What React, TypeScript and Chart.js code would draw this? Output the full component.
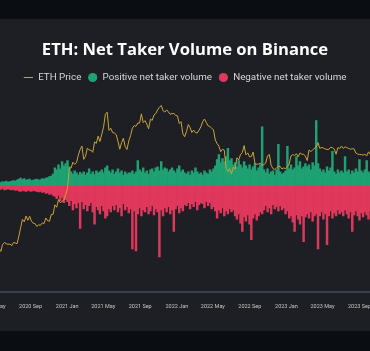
import React, { useEffect, useRef } from "react";
import { Chart, registerables } from "chart.js";

Chart.register(...registerables);

// ---- Data (one sample every 6 days) ----
const START_DATE = "2020-05-19";
const STEP_DAYS = 6;

const ethPrice = [
  214, 200, 232, 242, 237, 232, 235, 226, 242, 240, 236, 278, 334, 400, 380, 430, 392, 428, 385, 368,
  365, 343, 355, 352, 370, 366, 412, 388, 384, 445, 446, 548, 520, 615, 575, 590, 610, 685, 780, 1220,
  1220, 1380, 1320, 1370, 1610, 1810, 1960, 1470, 1570, 1870, 1800, 1790, 1710, 2140, 2080, 2430, 2160, 2530, 2950, 3900,
  4080, 2750, 2880, 2630, 2600, 2510, 2170, 1830, 2110, 2320, 1940, 1820, 2190, 2460, 2890, 3050, 3010, 3230, 3220, 3940,
  3260, 3400, 3150, 2850, 3510, 3420, 3850, 3970, 4290, 4530, 4730, 4220, 4090, 4290, 4100, 3900, 3960, 3980, 3800, 3770,
  3190, 3330, 2560, 2400, 2680, 3120, 2930, 2630, 2770, 2620, 2600, 2770, 2970, 3330, 3520, 3260, 3040, 2990, 2890, 2780,
  2240, 2060, 1960, 1730, 1830, 1790, 1210, 1130, 1200, 1070, 1240, 1190, 1520, 1450, 1630, 1700, 1980, 1620, 1690, 1550,
  1560, 1720, 1340, 1320, 1330, 1350, 1290, 1310, 1360, 1590, 1630, 1290, 1200, 1180, 1220, 1260, 1260, 1190, 1220, 1200,
  1250, 1330, 1580, 1630, 1600, 1660, 1550, 1690, 1640, 1640, 1570, 1430, 1800, 1740, 1790, 1870, 1910, 2110, 1860, 1900,
  1880, 1840, 1820, 1820, 1910, 1890, 1840, 1640, 1890, 1860, 1960, 1860, 1930, 1890, 1860, 1830, 1850, 1840, 1680, 1650,
  1630, 1630, 1610, 1640, 1580, 1730, 1630, 1550,
];

const positiveNetTakerVolume = [
  30, 25, 35, 30, 40, 30, 35, 40,
  45, 40, 50, 60, 70, 55, 65, 50,
  55, 60, 45, 50, 55, 60, 50,
  55, 65, 60, 70, 75, 85, 90, 110,
  170, 150, 200, 160, 230, 190, 210, 240,
  180, 130, 110, 140, 120, 100, 125,
  110, 130, 100, 120, 160, 110, 130, 105, 140, 120,
  130, 150, 120, 170, 190, 140, 120, 150, 110,
  130, 160, 120, 140, 100, 130, 110, 120,
  120, 140, 110, 130, 240, 150, 130, 170, 120, 140, 110,
  150, 160, 130, 170, 180, 140, 230, 150, 170,
  160, 130, 150, 170, 140, 120, 160, 190, 130, 150, 120,
  110, 130, 100, 140, 120, 170, 130, 110, 120,
  100, 140, 120, 110, 150, 130, 160, 190,
  250, 300, 220, 260, 230, 280, 360, 240, 260, 200,
  220, 180, 240, 200, 170, 230, 190, 160, 200, 150, 180, 210, 140, 170, 200,
  570,
  150, 120, 160, 110, 130, 140, 100, 150, 400, 130, 110, 120,
  140, 380, 160, 200, 150, 170, 280, 190, 230, 160, 180, 210,
  180, 200, 150, 220, 190, 630, 210,
  160, 130, 150, 120, 180, 140, 170, 330, 130, 110, 150, 120,
  140, 120, 280, 130, 150, 110, 140, 120, 160, 130, 250, 140, 120, 150, 240, 130, 110, 140,
];

const negativeNetTakerVolume = [
  -35, -40, -30, -45, -40, -35, -40, -45,
  -40, -50, -45, -55, -60, -50, -55, -60,
  -50, -55, -60, -50, -55, -60, -65,
  -60, -70, -65, -80, -75, -90, -85, -100,
  -110, -130, -100, -150, -120, -170, -140, -160,
  -200, -150, -240, -180, -220, -170, -420,
  -160, -230, -190, -250, -200, -170, -260, -380, -210, -240,
  -280, -200, -250, -320, -300, -230, -260, -200, -240,
  -190, -260, -220, -300, -180, -240, -210, -270,
  -230, -620, -250, -640, -280, -220, -300, -240, -260, -210, -280,
  -250, -200, -290, -230, -260, -700, -240, -300, -220,
  -260, -210, -280, -240, -450, -230, -200, -270, -220, -250, -190,
  -200, -170, -230, -180, -210, -160, -240, -190, -170,
  -180, -220, -160, -200, -170, -230, -210, -250,
  -320, -240, -270, -220, -300, -250, -280, -230, -260, -240,
  -300, -330, -280, -370, -450, -310, -350, -290, -380, -530, -320, -280, -340, -300, -260,
  -280,
  -240, -200, -260, -220, -280, -190, -230, -210, -250, -200, -240, -220,
  -280, -250, -320, -300, -360, -450, -290, -330, -380, -300, -550, -310,
  -280, -320, -260, -350, -300, -280, -620,
  -300, -260, -330, -280, -580, -300, -250, -320, -270, -300, -240, -280,
  -260, -300, -240, -280, -320, -260, -450, -290, -250, -300, -340, -270, -310, -260, -290, -330, -250, -280,
];

const tickLabels = [
  "2020 May", "2020 Sep", "2021 Jan", "2021 May", "2021 Sep", "2022 Jan",
  "2022 May", "2022 Sep", "2023 Jan", "2023 May", "2023 Sep",
];

// ---- helpers ----
const MONTHS: Record<string, number> = {
  Jan: 0, Feb: 1, Mar: 2, Apr: 3, May: 4, Jun: 5, Jul: 6, Aug: 7, Sep: 8, Oct: 9, Nov: 10, Dec: 11,
};
const ORIGIN = Date.UTC(2020, 4, 1);
const DAY_MS = 86400000;
const dayOf = (ms: number) => (ms - ORIGIN) / DAY_MS;
const startDay = dayOf(Date.parse(START_DATE + "T00:00:00Z"));
const xDays = ethPrice.map((_, i) => startDay + i * STEP_DAYS);
const tickDays = tickLabels.map((l) => {
  const [y, m] = l.split(" ");
  return dayOf(Date.UTC(Number(y), MONTHS[m], 1));
});

const FONT = "Roboto, 'Noto Sans', sans-serif";
const TITLE_FONT = "'Open Sans', Roboto, sans-serif";

export default function App() {
  const canvasRef = useRef<HTMLCanvasElement | null>(null);

  useEffect(() => {
    if (!canvasRef.current) return;
    const chart = new Chart(canvasRef.current, {
      type: "bar",
      data: {
        datasets: [
          {
            type: "line",
            label: "ETH Price",
            data: xDays.map((x, i) => ({ x, y: ethPrice[i] })),
            yAxisID: "yPrice",
            borderColor: "#c9a43a",
            backgroundColor: "#c9a43a",
            borderWidth: 1,
            pointRadius: 0,
            pointStyle: "line",
            tension: 0,
            order: 0,
          } as any,
          {
            type: "bar",
            label: "Positive net taker volume",
            data: xDays.map((x, i) => ({ x, y: positiveNetTakerVolume[i] })),
            yAxisID: "yVol",
            backgroundColor: "#1fa273",
            borderWidth: 0,
            barPercentage: 1,
            categoryPercentage: 1,
            grouped: false,
            order: 1,
          } as any,
          {
            type: "bar",
            label: "Negative net taker volume",
            data: xDays.map((x, i) => ({ x, y: negativeNetTakerVolume[i] })),
            yAxisID: "yVol",
            backgroundColor: "#e0385c",
            borderWidth: 0,
            barPercentage: 1,
            categoryPercentage: 1,
            grouped: false,
            order: 2,
          } as any,
        ],
      },
      options: {
        animation: false,
        responsive: false,
        layout: { padding: { top: 0, bottom: 30.5, left: 0, right: 0 } },
        plugins: {
          title: {
            display: true,
            text: "ETH: Net Taker Volume on Binance",
            color: "#ffffff",
            font: { family: TITLE_FONT, size: 16.6, weight: "bold" },
            padding: { top: 40, bottom: 6.2 },
          },
          legend: {
            display: true,
            labels: {
              usePointStyle: true,
              boxWidth: 9.8,
              boxHeight: 6.5,
              color: "#d6d6d6",
              font: { family: FONT, size: 9.8 },
              padding: 6.5,
            },
          },
          tooltip: { enabled: false },
        },
        scales: {
          x: {
            type: "linear",
            offset: false,
            min: -111.9,
            max: 1386.2,
            grid: { display: false, drawTicks: false, offset: false },
            border: { display: true, color: "#394150", width: 2 },
            ticks: {
              color: "#c4c4c4",
              font: { family: FONT, size: 5.5 },
              padding: 11,
              maxRotation: 0,
              autoSkip: false,
              callback: (_v: any, i: number) => tickLabels[i],
            },
            afterBuildTicks: (scale: any) => {
              scale.ticks = tickDays.map((v) => ({ value: v }));
            },
          },
          yPrice: { type: "logarithmic", display: false, min: 83.1, max: 6264 },
          yVol: { type: "linear", display: false, min: -1040, max: 905 },
        },
      } as any,
    });
    return () => chart.destroy();
  }, []);

  return (
    <div
      style={{
        position: "fixed",
        left: 0,
        top: 0,
        width: 370,
        height: 351,
        overflow: "hidden",
        background: "#0a0d11",
      }}
    >
      <div
        style={{
          position: "absolute",
          left: 0,
          top: 19,
          width: 370,
          height: 312,
          background: "#1e1f24",
        }}
      />
      <canvas
        ref={canvasRef}
        width={450}
        height={351}
        style={{ position: "absolute", left: -40, top: 0, width: 450, height: 351 }}
      />
    </div>
  );
}
